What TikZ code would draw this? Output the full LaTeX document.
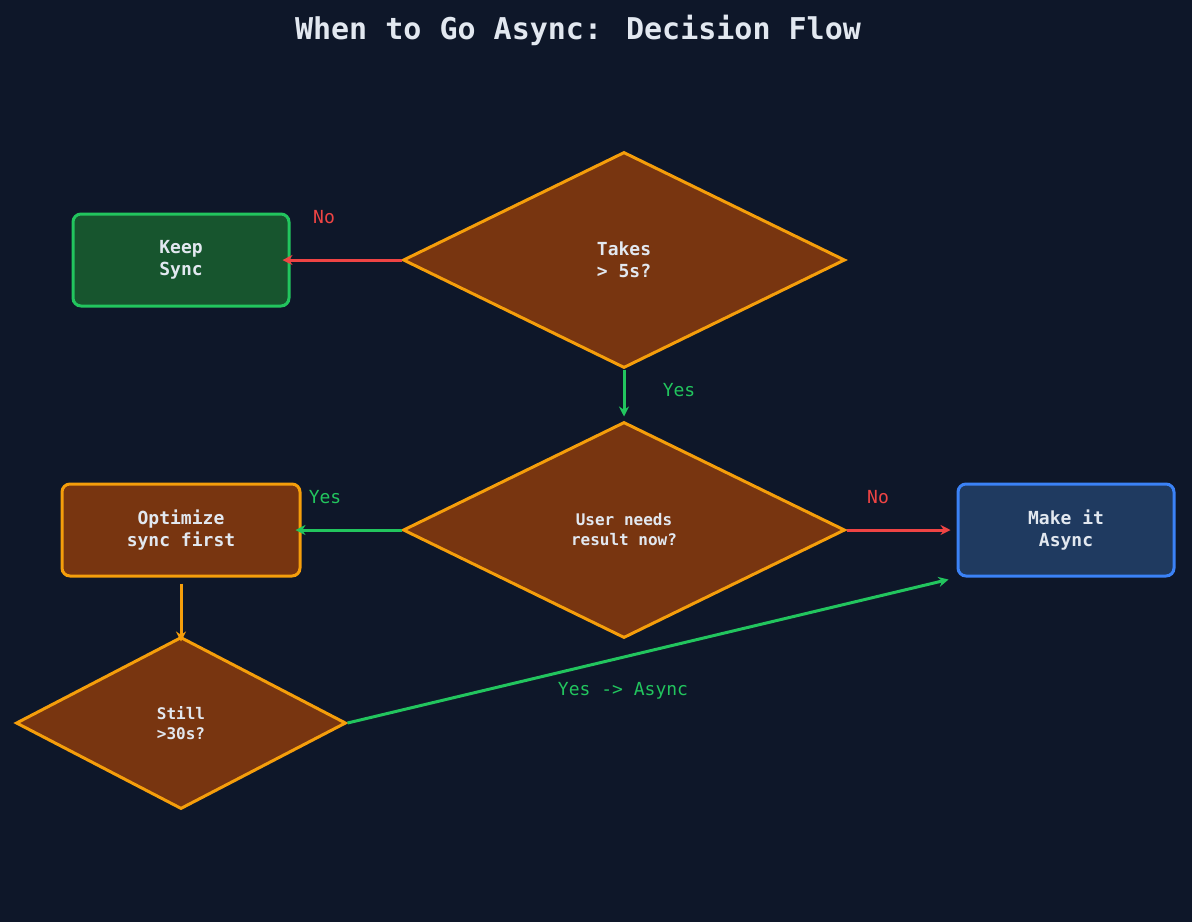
\documentclass[tikz,border=0pt]{standalone}
\usepackage{fontspec}
\setmainfont{DejaVu Sans Mono}
\usetikzlibrary{shapes.geometric}
\usetikzlibrary{arrows.meta}
\definecolor{bgcol}{HTML}{0E1729}
\definecolor{txtcol}{HTML}{E2E8F0}
\definecolor{orng}{HTML}{F59E0B}
\definecolor{brwn}{HTML}{783510}
\definecolor{grn}{HTML}{22C55E}
\definecolor{dgrn}{HTML}{17552E}
\definecolor{rd}{HTML}{EF4444}
\definecolor{blu}{HTML}{3B82F6}
\definecolor{dblu}{HTML}{1F3A60}
\tikzset{
    box/.style={draw, rounded corners=4pt, line width=1.5pt, text=txtcol,
        font=\bfseries\fontsize{9}{11}\selectfont, align=center, inner sep=0pt},
    decision/.style={diamond, draw=orng, fill=brwn, line width=1.5pt, text=txtcol,
        align=center, inner sep=0pt, aspect=2},
    link/.style={line width=1.5pt, -{Stealth[length=5pt,width=5pt]}},
    lbl/.style={font=\fontsize{9}{11}\selectfont}
}
\begin{document}
\begin{tikzpicture}[x=0.5pt,y=-0.5pt]
    \fill[bgcol] (0,0) rectangle (1192,922);
    \useasboundingbox (0,0) rectangle (1192,922);

    \node[text=txtcol, font=\bfseries\fontsize{15}{18}\selectfont] (title) at (578,30)
        {When to Go Async: Decision Flow};

    \node[decision, minimum width=221pt, minimum height=108pt,
        font=\bfseries\fontsize{9}{11}\selectfont] (takes) at (624,260) {Takes\\> 5s?};
    \node[box, draw=grn, fill=dgrn, minimum width=108pt, minimum height=46pt]
        (keep) at (181,260) {Keep\\Sync};
    \node[decision, minimum width=221pt, minimum height=108pt,
        font=\bfseries\fontsize{8}{10}\selectfont] (needs) at (624,530) {User needs\\result now?};
    \node[box, draw=orng, fill=brwn, minimum width=119pt, minimum height=46pt]
        (optimize) at (181,530) {Optimize\\sync first};
    \node[box, draw=blu, fill=dblu, minimum width=108pt, minimum height=46pt]
        (async) at (1066,530) {Make it\\Async};
    \node[decision, minimum width=165pt, minimum height=86pt,
        font=\bfseries\fontsize{8}{10}\selectfont] (still) at (181,723) {Still\\>30s?};

    \draw[link, rd] (takes.west) -- ([xshift=-4pt]keep.east);
    \node[lbl, text=rd] (no1) at (324,217) {No};
    \draw[link, grn] (takes.south) -- ([yshift=2pt]needs.north);
    \node[lbl, text=grn] (yes1) at (679,390) {Yes};
    \draw[link, grn] (needs.west) -- ([xshift=-3pt]optimize.east);
    \node[lbl, text=grn] (yes2) at (325,497) {Yes};
    \draw[link, rd] (needs.east) -- ([xshift=-3pt]async.west);
    \node[lbl, text=rd] (no2) at (878,497) {No};
    \draw[link, orng] ([yshift=-3pt]optimize.south) -- ([yshift=-3pt]still.north);
    \draw[link, grn] (still.east) -- ([xshift=-4pt,yshift=-1pt]async.south west);
    \node[lbl, text=grn] (yes3) at (623,691) {Yes -> Async};
\end{tikzpicture}
\end{document}
